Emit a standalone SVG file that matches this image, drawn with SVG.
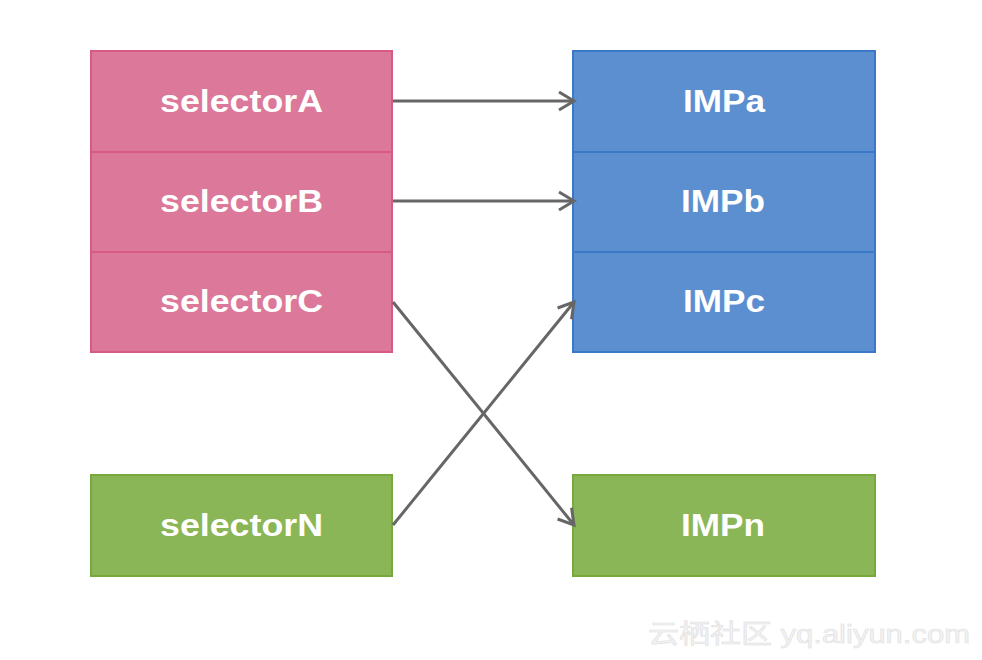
<svg xmlns="http://www.w3.org/2000/svg" width="982" height="660" viewBox="0 0 982 660">
<style>
.pink{fill:#DC7899;stroke:#D65A82;stroke-width:2}
.blue{fill:#5C8FD0;stroke:#3C78C8;stroke-width:2}
.green{fill:#8BB657;stroke:#77A93D;stroke-width:2}
.lbl{font-family:"Liberation Sans",Arial,sans-serif;font-weight:bold;font-size:32px;fill:#ffffff;text-anchor:middle}
.edge{stroke:#666666;stroke-width:3;fill:none;marker-end:url(#arr)}
.wm{font-family:"Liberation Sans","Noto Sans CJK SC",sans-serif;font-size:26px;fill:#f4f4f4;stroke:#e0e0e0;stroke-width:0.6}
</style>
<defs>
<marker id="arr" markerUnits="userSpaceOnUse" markerWidth="24" markerHeight="24" refX="17" refY="12" orient="auto">
<path d="M2,3 L17,12 L2,21" fill="none" stroke="#666666" stroke-width="3" stroke-linejoin="miter"/>
</marker>
</defs>
<rect width="982" height="660" fill="#ffffff"/>
<g id="selectorA"><rect class="pink" x="91" y="51" width="301" height="101"/><text class="lbl" x="241.5" y="112" textLength="163" lengthAdjust="spacingAndGlyphs">selectorA</text></g>
<g id="selectorB"><rect class="pink" x="91" y="152" width="301" height="100"/><text class="lbl" x="241.5" y="212" textLength="163" lengthAdjust="spacingAndGlyphs">selectorB</text></g>
<g id="selectorC"><rect class="pink" x="91" y="252" width="301" height="100"/><text class="lbl" x="241.5" y="312" textLength="163" lengthAdjust="spacingAndGlyphs">selectorC</text></g>
<g id="selectorN"><rect class="green" x="91" y="475" width="301" height="101"/><text class="lbl" x="241.5" y="536" textLength="163" lengthAdjust="spacingAndGlyphs">selectorN</text></g>
<g id="IMPa"><rect class="blue" x="573" y="51" width="302" height="101"/><text class="lbl" x="724" y="112" textLength="82" lengthAdjust="spacingAndGlyphs">IMPa</text></g>
<g id="IMPb"><rect class="blue" x="573" y="152" width="302" height="100"/><text class="lbl" x="723" y="212" textLength="84" lengthAdjust="spacingAndGlyphs">IMPb</text></g>
<g id="IMPc"><rect class="blue" x="573" y="252" width="302" height="100"/><text class="lbl" x="724" y="312" textLength="82" lengthAdjust="spacingAndGlyphs">IMPc</text></g>
<g id="IMPn"><rect class="green" x="573" y="475" width="302" height="101"/><text class="lbl" x="723" y="536" textLength="84" lengthAdjust="spacingAndGlyphs">IMPn</text></g>
<g id="connectors">
<line class="edge" x1="393" y1="101" x2="574" y2="101"/>
<line class="edge" x1="393" y1="201" x2="574" y2="201"/>
<line class="edge" x1="393" y1="302" x2="574" y2="525"/>
<line class="edge" x1="393" y1="525" x2="574" y2="302"/>
</g>
<text class="wm" x="648" y="643" textLength="322" lengthAdjust="spacingAndGlyphs">云栖社区 yq.aliyun.com</text>
</svg>
